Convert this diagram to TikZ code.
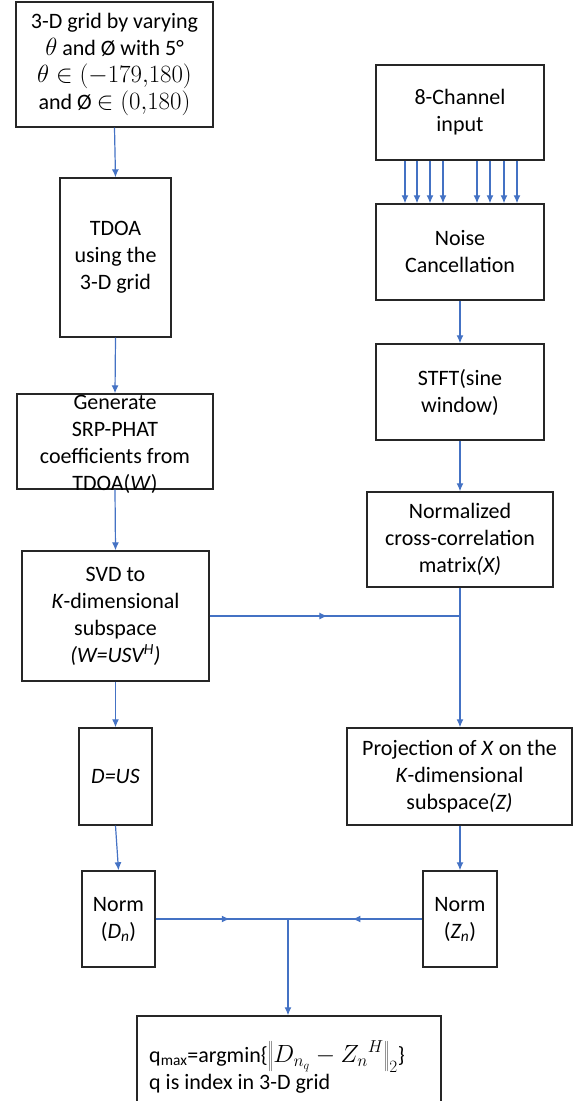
\documentclass[tikz,border=0pt]{standalone}
\usepackage{fontspec}
\setmainfont{Carlito}
\usetikzlibrary{arrows.meta,decorations.markings}
\definecolor{arrowblue}{HTML}{4472C4}
\newcommand\boxfont{\fontsize{22}{27}\selectfont}
\newcommand\bigmath{\fontsize{25}{27}\selectfont}
\tikzset{
  box/.style={draw=black!85, line width=1.4pt, inner sep=0pt, align=center, font=\boxfont},
  txt/.style={inner sep=0pt, align=center, font=\boxfont},
  flow/.style={draw=arrowblue, line width=1.2pt, -{Latex[length=8pt,width=7pt]}},
  plain/.style={draw=arrowblue, line width=1.2pt},
  midarrow/.style={decoration={markings, mark=at position #1 with {\arrow{Latex[length=8pt,width=7pt]}}}, postaction={decorate}}
}
\begin{document}
\begin{tikzpicture}[x=1pt,y=-1pt]
\useasboundingbox (0,0) rectangle (579,1101);
% left column
\node[box, minimum width=197pt, minimum height=125pt] (grid) at (114.5,64.5)
  {3-D grid by varying\\ {\bigmath$\theta$} and Ø with 5°\\ {\bigmath$\theta\in(-179{,}180)$}\\ and Ø {\bigmath$\in(0{,}180)$}};
\node[box, minimum width=111pt, minimum height=159pt] (tdoa) at (115.5,257.5)
  {TDOA\\using the\\3-D grid};
\node[box, minimum width=196pt, minimum height=95pt] (gen) at (115,441.5) {};
\node[txt] (gentext) at (115,444) {Generate\\SRP-PHAT\\coefficients from\\TDOA(\textit{W})};
\node[box, minimum width=187pt, minimum height=130pt] (svd) at (115.5,616)
  {SVD to\\\textit{K}-dimensional\\subspace\\\textit{(W=USV\textsuperscript{H})}};
\node[box, minimum width=73pt, minimum height=97pt] (dus) at (115.5,776.5) {\textit{D=US}};
\node[box, minimum width=73pt, minimum height=96pt] (normd) at (118.5,919) {Norm\\(\textit{D\textsubscript{n}})};
% right column
\node[box, minimum width=168pt, minimum height=95pt] (ch8) at (460,112.5) {8-Channel\\input};
\node[box, minimum width=168pt, minimum height=96pt] (noise) at (460,252) {Noise\\Cancellation};
\node[box, minimum width=168pt, minimum height=96pt] (stft) at (460,392) {STFT(sine\\window)};
\node[box, minimum width=186pt, minimum height=95pt] (ncc) at (460,539.5)
  {Normalized\\cross-correlation\\matrix\textit{(X)}};
\node[box, minimum width=225pt, minimum height=97pt] (proj) at (459.5,776.5)
  {Projection of \textit{X} on the\\\textit{K}-dimensional\\subspace\textit{(Z)}};
\node[box, minimum width=74pt, minimum height=96pt] (normz) at (460,919) {Norm\\(\textit{Z\textsubscript{n}})};
% bottom
\node[box, minimum width=304pt, minimum height=96pt] (res) at (289,1064) {};
\node[inner sep=0pt, align=left, font=\boxfont, anchor=west] (restext) at (149,1067)
  {q\textsubscript{max}=argmin\{{\bigmath$\left\|\rule[-6pt]{0pt}{24pt}D_{n_q}-{Z_n}^{H}\right\|_2$}\}\\q is index in 3-D grid};
% connectors
\draw[flow] (grid.south) -- (tdoa.north);
\draw[flow] (tdoa.south) -- (gen.north);
\draw[flow] (gen.south) -- (svd.north);
\draw[flow] (svd.south) -- (dus.north);
\draw[flow] (dus.south) -- (normd.north);
\foreach \xx in {405,417,430,443,477,490,504,517}{
  \draw[flow] (\xx,0 |- ch8.south) -- (\xx,0 |- noise.north);
}
\draw[flow] (noise.south) -- (stft.north);
\draw[flow] (stft.south) -- (ncc.north);
\draw[flow] (ncc.south) -- (ncc.south |- proj.north);
\coordinate (j1) at (ncc.south |- svd.east);
\draw[plain, midarrow=0.47] (svd.east) -- (j1);
\draw[flow] (proj.south -| normz.north) -- (normz.north);
\coordinate (j2) at (288,919);
\draw[plain, midarrow=0.56] (normd.east) -- (j2);
\draw[plain, midarrow=0.52] (normz.west) -- (j2);
\draw[flow] (j2) -- (j2 |- res.north);
\end{tikzpicture}
\end{document}
